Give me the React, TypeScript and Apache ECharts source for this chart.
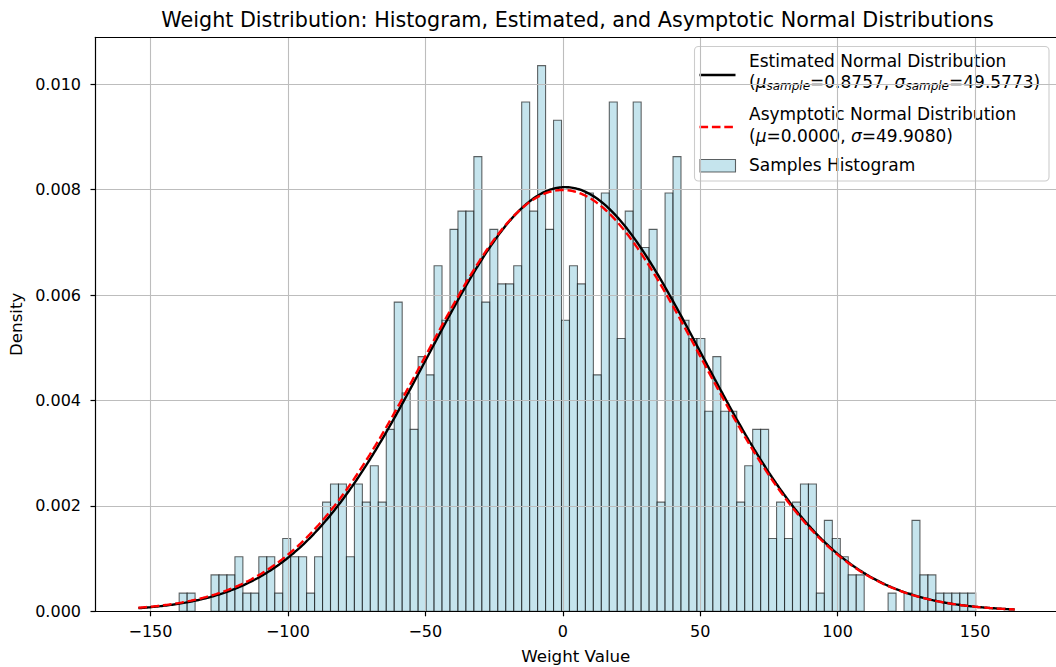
import React, { useEffect, useRef } from "react";
import * as echarts from "echarts";

// ---- data ----
const SAMPLE_COUNT = 1000;
const BIN_START = -139.56;
const BIN_WIDTH = 2.898;
const binCounts = [
  1, 1, 0, 0, 2, 2, 2, 3, 1, 1, 3, 3, 1, 4, 3, 3, 1, 3, 6, 7, 7, 3,
  7, 6, 8, 6, 10, 17, 12, 10, 14, 13, 19, 16, 21, 22, 22, 25, 17, 21, 18, 18, 19, 28, 22, 30, 21, 27, 16, 19, 18,
  23, 13, 23, 28, 15, 22, 28, 20, 21, 6, 23, 25, 16, 15, 15, 11, 14, 11, 11, 6, 8, 10, 10, 4, 6, 4, 6, 7,
  7, 1, 5, 4, 3, 2, 2, 0, 0, 0, 1, 0, 1, 5, 2, 2, 1, 1, 1, 1, 1,
];
const EST_MU = 0.8757;
const EST_SIGMA = 49.5773;
const ASY_MU = 0.0;
const ASY_SIGMA = 49.908;
const CURVE_RANGE = [-154.4, 164.4];
const xTicks = [-150, -100, -50, 0, 50, 100, 150];
const yTicks = [0, 0.002, 0.004, 0.006, 0.008, 0.01];
const X_RANGE = [-170, 179.45];
const Y_RANGE = [0, 0.01089];

const FONT = "'DejaVu Sans', 'Noto Sans', sans-serif";

function normalCurve(mu: number, sigma: number, n = 600): number[][] {
  const pts: number[][] = [];
  const [a, b] = CURVE_RANGE;
  for (let i = 0; i < n; i++) {
    const x = a + ((b - a) * i) / (n - 1);
    const z = (x - mu) / sigma;
    pts.push([x, Math.exp(-0.5 * z * z) / (sigma * Math.sqrt(2 * Math.PI))]);
  }
  return pts;
}

const histData = binCounts.map((c, i) => [
  BIN_START + i * BIN_WIDTH,
  BIN_START + (i + 1) * BIN_WIDTH,
  c / (SAMPLE_COUNT * BIN_WIDTH),
]);

const minus = (v: number) => String(v).replace("-", "\u2212");

export default function App() {
  const ref = useRef<HTMLDivElement>(null);
  useEffect(() => {
    const chart = echarts.init(ref.current!, null, { renderer: "svg" });
    const axisLineStyle = { color: "#000", width: 1.2 };
    const splitLineStyle = { color: "#bdbdbd", width: 1.1 };
    const legendX = 749;
    const rich = {
      n: { fontFamily: FONT, fontSize: 17, color: "#000", lineHeight: 20 },
      i: { fontFamily: FONT, fontSize: 17, fontStyle: "italic", color: "#000", lineHeight: 20 },
      s: { fontFamily: FONT, fontSize: 12, fontStyle: "italic", color: "#000", lineHeight: 11.5, verticalAlign: "bottom" },
    };
    const option: any = {
      animation: false,
      backgroundColor: "#ffffff",
      grid: { left: 95.5, right: 0, top: 37.3, bottom: 55.7, containLabel: false, outerBoundsMode: "none" },
      xAxis: [
        {
          type: "value",
          min: X_RANGE[0],
          max: X_RANGE[1],
          position: "bottom",
          z: 3,
          name: "Weight Value",
          nameLocation: "middle",
          nameGap: 36,
          nameTextStyle: { fontFamily: FONT, fontSize: 16.7, color: "#000" },
          axisLine: { show: true, onZero: false, lineStyle: axisLineStyle },
          axisTick: { show: true, length: 5, customValues: xTicks, lineStyle: { color: "#000", width: 1.2 } },
          axisLabel: {
            show: true,
            customValues: xTicks,
            margin: 12,
            fontFamily: FONT,
            fontSize: 16,
            color: "#000",
            formatter: (v: number) => minus(v),
          },
          splitLine: { show: true, lineStyle: splitLineStyle },
        },
        {
          type: "value",
          min: X_RANGE[0],
          max: X_RANGE[1],
          position: "top",
          z: 3,
          axisLine: { show: true, onZero: false, lineStyle: axisLineStyle },
          axisTick: { show: false },
          axisLabel: { show: false },
          splitLine: { show: false },
        },
      ],
      yAxis: {
        type: "value",
        min: Y_RANGE[0],
        max: Y_RANGE[1],
        z: 3,
        name: "Density",
        nameLocation: "middle",
        nameGap: 69.6,
        nameTextStyle: { fontFamily: FONT, fontSize: 16.7, color: "#000" },
        axisLine: { show: true, onZero: false, lineStyle: axisLineStyle },
        axisTick: { show: true, length: 5, customValues: yTicks, lineStyle: { color: "#000", width: 1.2 } },
        axisLabel: {
          show: true,
          customValues: yTicks,
          margin: 14.5,
          fontFamily: FONT,
          fontSize: 16,
          color: "#000",
          formatter: (v: number) => v.toFixed(3),
        },
        splitLine: { show: true, lineStyle: splitLineStyle },
      },
      series: [
        {
          name: "Samples Histogram",
          type: "custom",
          z: 1,
          data: histData,
          encode: { x: [0, 1], y: 2 },
          renderItem: (params: any, api: any) => {
            const h = api.value(2);
            if (!h) return null;
            const p0 = api.coord([api.value(0), 0]);
            const p1 = api.coord([api.value(1), h]);
            return {
              type: "rect",
              shape: { x: p0[0], y: p1[1], width: p1[0] - p0[0], height: p0[1] - p1[1] },
              style: { fill: "rgba(173,216,230,0.7)", stroke: "rgba(0,0,0,0.6)", lineWidth: 1.1 },
            };
          },
        },
        {
          name: "Estimated Normal Distribution",
          type: "line",
          z: 5,
          data: normalCurve(EST_MU, EST_SIGMA),
          showSymbol: false,
          symbol: "none",
          lineStyle: { color: "#000", width: 2.4 },
        },
        {
          name: "Asymptotic Normal Distribution",
          type: "line",
          z: 6,
          data: normalCurve(ASY_MU, ASY_SIGMA),
          showSymbol: false,
          symbol: "none",
          lineStyle: { color: "#ff0000", width: 2.4, type: [8.6, 3.8] },
        },
      ],
      graphic: [
        {
          type: "text",
          z: 100,
          x: 577.5,
          y: 19.5,
          style: {
            text: "Weight Distribution: Histogram, Estimated, and Asymptotic Normal Distributions",
            fontFamily: FONT,
            fontSize: 20.7,
            fill: "#000",
            align: "center",
            verticalAlign: "middle",
          },
        },
        {
          type: "group",
          z: 100,
          children: [
            {
              type: "rect",
              shape: { x: 694.5, y: 46.5, width: 354.5, height: 134.5, r: 4 },
              style: { fill: "rgba(255,255,255,0.8)", stroke: "#cccccc", lineWidth: 1.1 },
            },
            {
              type: "line",
              shape: { x1: 699.5, y1: 75, x2: 735.5, y2: 75 },
              style: { stroke: "#000", lineWidth: 2.4 },
            },
            {
              type: "line",
              shape: { x1: 699.5, y1: 127, x2: 735.5, y2: 127 },
              style: { stroke: "#ff0000", lineWidth: 2.4, lineDash: [8.6, 3.8] },
            },
            {
              type: "rect",
              shape: { x: 700, y: 159.5, width: 35.5, height: 12.5 },
              style: { fill: "rgba(173,216,230,0.7)", stroke: "rgba(0,0,0,0.6)", lineWidth: 1.1 },
            },
            {
              type: "text",
              x: legendX,
              y: 60.8,
              style: { text: "Estimated Normal Distribution", fontFamily: FONT, fontSize: 17, fill: "#000", verticalAlign: "middle" },
            },
            {
              type: "text",
              x: legendX,
              y: 82.4,
              style: {
                text: "{n|(}{i|\u03bc}{s|sample}{n|=0.8757, }{i|\u03c3}{s|sample}{n|=49.5773)}",
                rich,
                verticalAlign: "middle",
              },
            },
            {
              type: "text",
              x: legendX,
              y: 114.1,
              style: { text: "Asymptotic Normal Distribution", fontFamily: FONT, fontSize: 17, fill: "#000", verticalAlign: "middle" },
            },
            {
              type: "text",
              x: legendX,
              y: 135.8,
              style: {
                text: "{n|(}{i|\u03bc}{n|=0.0000, }{i|\u03c3}{n|=49.9080)}",
                rich,
                verticalAlign: "middle",
              },
            },
            {
              type: "text",
              x: legendX,
              y: 164.8,
              style: { text: "Samples Histogram", fontFamily: FONT, fontSize: 17, fill: "#000", verticalAlign: "middle" },
            },
          ],
        },
      ],
    };
    chart.setOption(option);
    return () => chart.dispose();
  }, []);
  return (
    <div
      ref={ref}
      style={{ position: "absolute", left: 0, top: 0, width: 1056, height: 667, background: "#fff" }}
    />
  );
}
